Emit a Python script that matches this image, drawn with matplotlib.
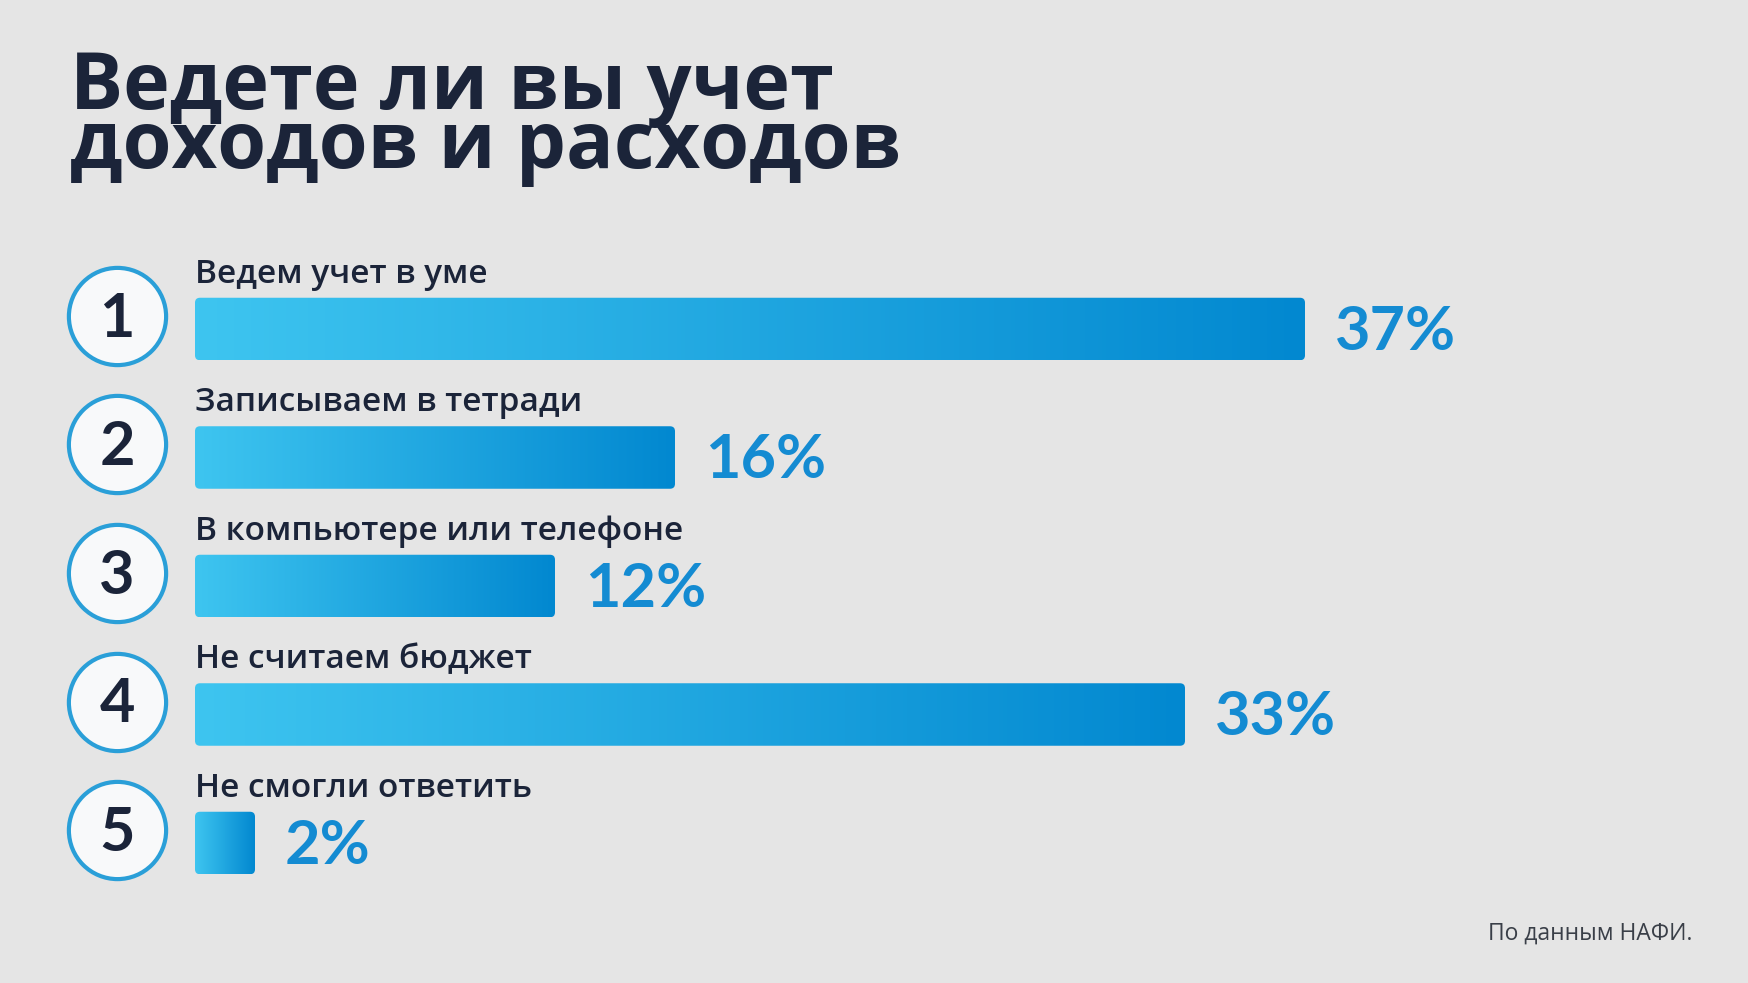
import numpy as np
import matplotlib
matplotlib.use("Agg")
import matplotlib.pyplot as plt
from matplotlib.patches import FancyBboxPatch
from matplotlib.colors import LinearSegmentedColormap

title_lines = ["Ведете ли вы учет", "доходов и расходов"]
labels = ["Ведем учет в уме", "Записываем в тетради", "В компьютере или телефоне",
          "Не считаем бюджет", "Не смогли ответить"]
values = [37, 16, 12, 33, 2]
numbers = ["1", "2", "3", "4", "5"]
source = "По данным НАФИ."

bg = "#e5e5e5"
dark = "#1b2439"
pct_color = "#148bd2"
grad = LinearSegmentedColormap.from_list("bar", ["#3ec5f0", "#0288d0"])

W, H, DPI = 1748, 983, 100
fig = plt.figure(figsize=(W / DPI, H / DPI), dpi=DPI, facecolor=bg)

# pixel layout
px_per_pct = 30.0
bar_x0 = 195
row0 = 329
row_step = 128.5
bar_h = 62.5 / row_step

ax = fig.add_axes([bar_x0 / W, 0, (W - bar_x0) / W, 1])
ax.set_facecolor(bg)
ax.set_xlim(0, (W - bar_x0) / px_per_pct)
ax.set_ylim((H - row0) / row_step, -row0 / row_step)
ax.axis("off")

gradient = np.linspace(0, 1, 256).reshape(1, -1)
aspect = (1 / row_step) / (1 / px_per_pct)
for i, v in enumerate(values):
    patch = FancyBboxPatch((0, i - bar_h / 2), v, bar_h,
                           boxstyle="round,pad=0,rounding_size=%f" % (5 / px_per_pct),
                           mutation_aspect=aspect, facecolor="none", edgecolor="none")
    ax.add_patch(patch)
    im = ax.imshow(gradient, cmap=grad, aspect="auto",
                   extent=(0, v, i + bar_h / 2, i - bar_h / 2), zorder=2)
    im.set_clip_path(patch)
    ax.text(0, i - 46 / row_step, labels[i], fontsize=24, fontweight="semibold",
            color=dark, family="Open Sans", va="baseline", ha="left")
    ax.text(v + 30 / px_per_pct, i + 0.02, f"{v}%", fontsize=44, fontweight="bold",
            color=pct_color, family="Lato", va="center", ha="left")

circle_x = (117 - bar_x0) / px_per_pct
ys = np.arange(len(values)) - 13 / row_step
ax.scatter([circle_x] * len(values), ys, s=70 ** 2, facecolor="#f8f9fa",
           edgecolor="#2a9fd8", linewidth=3, clip_on=False, zorder=3)
for y, n in zip(ys, numbers):
    ax.text(circle_x, y + 0.02, n, fontsize=44, fontweight="bold", color=dark,
            family="Lato", ha="center", va="center", zorder=4)

fig.text(70 / W, 1 - 49 / H, "\n".join(title_lines), fontsize=57, fontweight="bold",
         color=dark, family="Open Sans", va="top", ha="left", linespacing=0.67)

fig.text(1692 / W, 1 - 934 / H, source, fontsize=16.5, color="#3a3f48",
         family="Open Sans", va="center", ha="right")

fig.savefig("out.png", dpi=DPI, facecolor=bg)
